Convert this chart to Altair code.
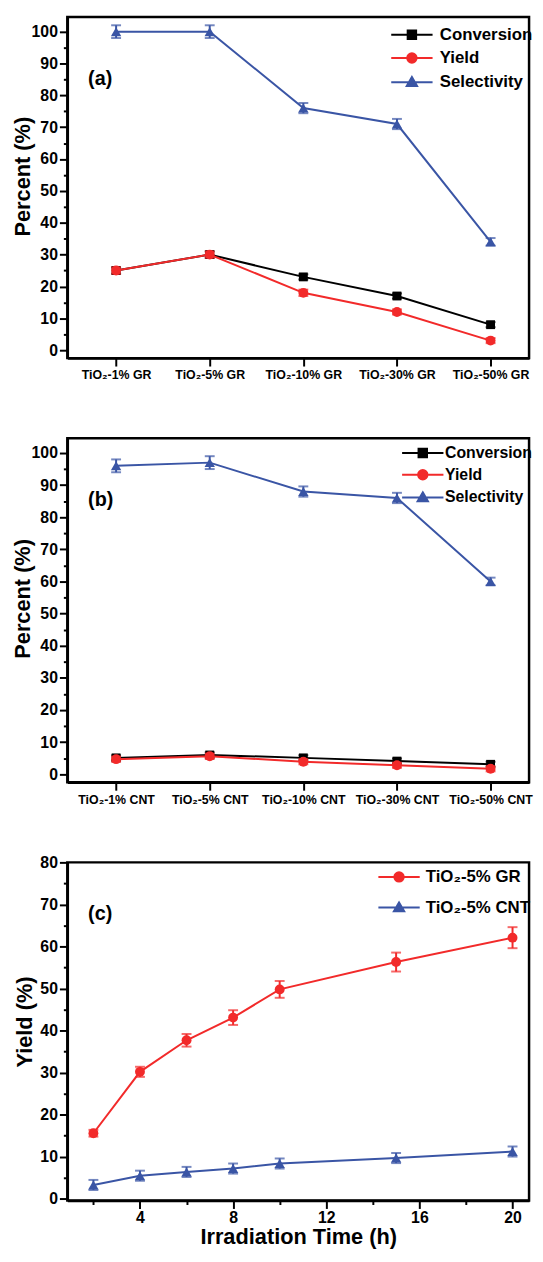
import altair as alt
import pandas as pd

# ---------------- data ----------------
series = ["Conversion", "Yield", "Selectivity"]
cats_gr = ["TiO₂-1% GR", "TiO₂-5% GR", "TiO₂-10% GR", "TiO₂-30% GR", "TiO₂-50% GR"]
cats_cnt = ["TiO₂-1% CNT", "TiO₂-5% CNT", "TiO₂-10% CNT", "TiO₂-30% CNT", "TiO₂-50% CNT"]

conv_a = [25, 30, 23, 17, 8]
conv_a_err = [1.0, 1.0, 0.8, 0.8, 0.8]
yield_a = [25, 30, 18, 12, 3]
yield_a_err = [1.0, 1.0, 1.0, 0.8, 0.8]
sel_a = [100, 100, 76, 71, 34]
sel_a_err = [2.0, 2.0, 1.6, 1.6, 1.2]

conv_b = [5.1, 6.0, 5.1, 4.1, 3.1]
conv_b_err = [0.8, 0.8, 0.8, 0.8, 0.8]
yield_b = [4.7, 5.6, 3.9, 2.8, 1.7]
yield_b_err = [0.8, 0.8, 0.8, 0.8, 0.8]
sel_b = [96, 97, 88, 86, 60]
sel_b_err = [2.0, 2.0, 1.6, 1.6, 1.2]

time_h = [2, 4, 6, 8, 10, 15, 20]
series_c = ["TiO₂-5% GR", "TiO₂-5% CNT"]
gr_c = [15.6, 30.2, 37.7, 43.1, 49.8, 56.3, 62.1]
gr_c_err = [0.8, 1.2, 1.5, 1.75, 2.0, 2.25, 2.5]
cnt_c = [3.3, 5.5, 6.4, 7.2, 8.4, 9.7, 11.25]
cnt_c_err = [1.2, 1.2, 1.2, 1.2, 1.2, 1.2, 1.2]

# ---------------- styling ----------------
FONT = "Liberation Sans"
BLACK = "#000000"
RED = "#f22a2a"
BLUE = "#3a55a5"
L = 2.2
PATH_SQUARE = f"M-{L},0H{L}M-0.45,-0.45H0.45V0.45H-0.45Z"
PATH_CIRCLE = f"M-{L},0H{L}M0.5,0A0.5,0.5 0 1,1 -0.5,0A0.5,0.5 0 1,1 0.5,0Z"
PATH_TRI = f"M-{L},0H{L}M0,-0.55L0.55,0.4H-0.55Z"
W = 467


def long_table(xs, values, errs, names, xname):
    rows = []
    for name, vals, es in zip(names, values, errs):
        for i, (c, v, e) in enumerate(zip(xs, vals, es)):
            rows.append({xname: c, "idx": i + 1, "series": name, "value": v, "lo": v - e, "hi": v + e})
    return pd.DataFrame(rows)


df_a = long_table(cats_gr, [conv_a, yield_a, sel_a], [conv_a_err, yield_a_err, sel_a_err], series, "cat")
df_b = long_table(cats_cnt, [conv_b, yield_b, sel_b], [conv_b_err, yield_b_err, sel_b_err], series, "cat")
df_c = long_table(time_h, [gr_c, cnt_c], [gr_c_err, cnt_c_err], series_c, "t")


def y_axis(title, title_x, title_y, domain, values):
    axis = alt.Axis(
        values=values,
        labelExpr="datum.value % 10 === 0 ? datum.label : ''",
        tickSize={"condition": {"test": "datum.value % 10 === 0", "value": 8}, "value": 4},
        labelFontSize=16, labelPadding=2,
        title=title, titleFontSize=22, titleX=title_x, titleY=title_y,
        titleBaseline="middle", titleAngle=270,
        grid=False,
    )

    def make(field):
        return alt.Y(f"{field}:Q", axis=axis,
                     scale=alt.Scale(domain=domain, nice=False, zero=False))
    return make


def series_layers(df, name, color, shape, size, xenc, yfn):
    base = alt.Chart(df).transform_filter(alt.datum.series == name)
    line = base.mark_line(color=color, strokeWidth=2).encode(x=xenc, y=yfn("value"))
    rule = base.mark_rule(color=color, strokeWidth=2).encode(x=xenc, y=yfn("lo"), y2="hi")
    tlo = base.mark_tick(color=color, thickness=2, size=10, orient="horizontal").encode(x=xenc, y=yfn("lo"))
    thi = base.mark_tick(color=color, thickness=2, size=10, orient="horizontal").encode(x=xenc, y=yfn("hi"))
    pts = base.mark_point(filled=True, shape=shape, size=size, color=color, opacity=1).encode(x=xenc, y=yfn("value"))
    return [line, rule, tlo, thi, pts]


def legend_layer(df, names, colors, paths, xenc, yfn, lx, ly, row_pad, label_off, fsize):
    leg = alt.Legend(
        title=None, orient="none", legendX=lx, legendY=ly,
        labelFont=FONT, labelFontSize=fsize, labelFontWeight="bold", labelColor="black",
        symbolSize=361, symbolStrokeWidth=2, labelOffset=label_off, rowPadding=row_pad,
        padding=0,
    )
    return alt.Chart(df).transform_filter("false").mark_point(filled=True, opacity=1).encode(
        x=xenc, y=yfn("value"),
        shape=alt.Shape("series:N", scale=alt.Scale(domain=names, range=paths), legend=leg),
        fill=alt.Fill("series:N", scale=alt.Scale(domain=names, range=colors), legend=leg),
        stroke=alt.Stroke("series:N", scale=alt.Scale(domain=names, range=colors), legend=leg),
    )


def tag(text, x, y):
    return alt.Chart(pd.DataFrame({"t": [text]})).mark_text(
        align="left", baseline="middle", font=FONT, fontSize=20, fontWeight="bold", color="black"
    ).encode(text="t:N", x=alt.value(x), y=alt.value(y))


RES = dict(shape="independent", fill="independent", stroke="independent")


def panel_ab(df, cats, label, title_y, lx, ly, row_pad, label_off, fsize, height):
    names_js = "[" + ",".join(f"'{c}'" for c in cats) + "]"
    xenc = alt.X("idx:Q", scale=alt.Scale(domain=[0.479, 5.411], nice=False, zero=False),
                 axis=alt.Axis(title=None, values=list(range(1, len(cats) + 1)),
                               labelExpr=f"{names_js}[datum.value - 1]",
                               labelAngle=0, labelFontSize=12.5, tickSize=8,
                               labelPadding=3, grid=False))
    yfn = y_axis("Percent (%)", -45, title_y, [-2.5, 104.6], list(range(0, 101, 5)))
    layers = []
    layers += series_layers(df, "Conversion", BLACK, "square", 80, xenc, yfn)
    layers += series_layers(df, "Yield", RED, "circle", 100, xenc, yfn)
    layers += series_layers(df, "Selectivity", BLUE, "triangle-up", 110, xenc, yfn)
    layers.append(legend_layer(df, series, [BLACK, RED, BLUE], [PATH_SQUARE, PATH_CIRCLE, PATH_TRI],
                               xenc, yfn, lx, ly, row_pad, label_off, fsize))
    layers.append(tag(label, 21, 63))
    return alt.layer(*layers).properties(width=W, height=height).resolve_scale(**RES)


pa = panel_ab(df_a, cats_gr, "(a)", 161, 338, 7.5, 4.5, 17.7, 17, 345)
pb = panel_ab(df_b, cats_cnt, "(b)", 162, 349, 4.5, 3, 12.0, 16, 348)

xc = alt.X("t:Q", scale=alt.Scale(domain=[0.88, 20.71], nice=False, zero=False),
           axis=alt.Axis(values=list(range(2, 21, 2)),
                         labelExpr="datum.value % 4 === 0 ? datum.label : ''",
                         tickSize={"condition": {"test": "datum.value % 4 === 0", "value": 8}, "value": 4},
                         labelFontSize=16, labelPadding=1, title="Irradiation Time (h)",
                         titleFontSize=22, titlePadding=1, grid=False))
yc = y_axis("Yield (%)", -43, 161, [-0.4, 80], list(range(0, 81, 5)))
layers_c = []
layers_c += series_layers(df_c, series_c[0], RED, "circle", 100, xc, yc)
layers_c += series_layers(df_c, series_c[1], BLUE, "triangle-up", 110, xc, yc)
layers_c.append(legend_layer(df_c, series_c, [RED, BLUE], [PATH_CIRCLE, PATH_TRI], xc, yc,
                             325, 4.2, 11, 16.5, 17))
layers_c.append(tag("(c)", 21, 52))
pc = alt.layer(*layers_c).properties(width=W, height=342).resolve_scale(**RES)

inner = alt.vconcat(pa, pb, spacing=54).resolve_scale(**RES).resolve_legend(**RES)
chart = alt.vconcat(inner, pc, spacing=46).resolve_scale(**RES).resolve_legend(**RES).configure(
    padding={"left": 2, "top": 0, "right": 0, "bottom": 0}, font=FONT
).configure_view(
    stroke="black", strokeWidth=2.5
).configure_axis(
    domainColor="black", domainWidth=2.5, tickColor="black", tickWidth=2,
    labelColor="black", titleColor="black", labelFont=FONT, titleFont=FONT,
    labelFontWeight="bold", titleFontWeight="bold",
)

chart.save("out.html", embed_options={"renderer": "svg", "actions": False})
